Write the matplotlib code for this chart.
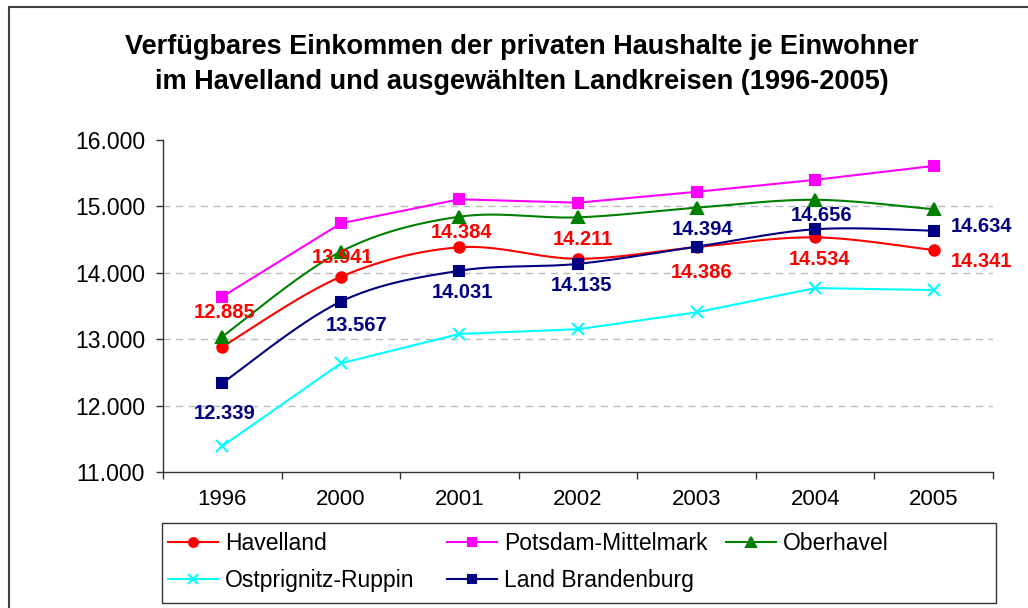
import numpy as np
import matplotlib
matplotlib.use("Agg")
import matplotlib.pyplot as plt
from matplotlib.patches import Rectangle
from matplotlib.ticker import FuncFormatter, FixedLocator

plt.rcParams['font.family'] = ['Liberation Sans', 'DejaVu Sans']

years = ['1996', '2000', '2001', '2002', '2003', '2004', '2005']

havelland = [12885, 13941, 14384, 14211, 14386, 14534, 14341]
potsdam_mittelmark = [13640, 14745, 15107, 15056, 15220, 15400, 15610]
oberhavel = [13040, 14320, 14845, 14835, 14980, 15100, 14956]
ostprignitz_ruppin = [11390, 12637, 13080, 13150, 13405, 13770, 13740]
land_brandenburg = [12339, 13567, 14031, 14135, 14394, 14656, 14634]

W, H = 1028, 608


def smooth(xs, ys, yscale=0.56 / 1000.0, n=30):
    """Excel-like smoothed line (Catmull-Rom as cubic Bezier)."""
    P = np.column_stack([np.asarray(xs, float), np.asarray(ys, float) * yscale])
    P = np.vstack([P[0], P, P[-1]])
    out = []
    t = np.linspace(0, 1, n)[:, None]
    for i in range(1, len(P) - 2):
        p0, p1, p2, p3 = P[i - 1], P[i], P[i + 1], P[i + 2]
        c1 = p1 + (p2 - p0) / 6.0
        c2 = p2 - (p3 - p1) / 6.0
        seg = ((1 - t) ** 3) * p1 + 3 * ((1 - t) ** 2) * t * c1 + 3 * (1 - t) * t ** 2 * c2 + t ** 3 * p2
        out.append(seg if i == 1 else seg[1:])
    out = np.vstack(out)
    return out[:, 0], out[:, 1] / yscale


fig = plt.figure(figsize=(W / 100, H / 100), dpi=100)
ax = fig.add_axes([163 / W, 1 - 472 / H, (993 - 163) / W, (472 - 140) / H])

x = np.arange(len(years))
# name, values, colour, marker, size, smoothed line?
series = [
    ("Havelland", havelland, "#FF0000", "o", 7.5, True),
    ("Potsdam-Mittelmark", potsdam_mittelmark, "#FF00FF", "s", 7.5, False),
    ("Oberhavel", oberhavel, "#008000", "^", 8.5, True),
    ("Ostprignitz-Ruppin", ostprignitz_ruppin, "#00FFFF", "x", 9, False),
    ("Land Brandenburg", land_brandenburg, "#000080", "s", 7.5, True),
]

handles = {}
for name, vals, col, mk, ms, sm in series:
    if sm:
        sx, sy = smooth(x, vals)
    else:
        sx, sy = x, vals
    ax.plot(sx, sy, color=col, lw=1.5, zorder=3)
    ax.plot(x, vals, ls='none', marker=mk, color=col, ms=ms, mew=1.5, zorder=4)
    h, = ax.plot([], [], color=col, lw=1.5, marker=mk, ms=ms * 0.85, mew=1.5)
    handles[name] = h

# gridlines
for gy in [12000, 13000, 14000, 15000]:
    ax.axhline(gy, color='#BBBBBB', lw=1, ls=(0, (5, 4)), zorder=1)

ax.set_xlim(-0.5, len(years) - 0.5)
ax.set_ylim(11000, 16000)
ax.set_yticks(np.arange(11000, 16001, 1000))
ax.yaxis.set_major_formatter(FuncFormatter(lambda v, p: f"{int(v):,}".replace(",", ".")))
ax.xaxis.set_major_locator(FixedLocator(np.arange(-0.5, len(years), 1.0)))
ax.xaxis.set_minor_locator(FixedLocator(x))
ax.set_xticklabels([], minor=False)
ax.set_xticklabels(years, minor=True)
ax.tick_params(axis='x', which='major', direction='out', length=5, width=1, color='#333333')
ax.tick_params(axis='x', which='minor', length=0, pad=12, labelsize=16)
ax.tick_params(axis='y', direction='out', length=5, width=1, color='#333333', pad=8, labelsize=16.5)
for s in ['top', 'right']:
    ax.spines[s].set_visible(False)
for s in ['left', 'bottom']:
    ax.spines[s].set_color('#333333')
    ax.spines[s].set_linewidth(1)

# data labels (offsets in pixels, screen y down)
red_off = [(2, -34), (2, -19), (2, -15), (5, -19), (5, 25), (4, 22), (48, 11)]
navy_off = [(2, 30), (16, 24), (3, 22), (4, 22), (6, -17), (6, -14), (48, -4)]
for vals, offs, col in [(havelland, red_off, "#FF0000"), (land_brandenburg, navy_off, "#000080")]:
    for xi, v, (dx, dy) in zip(x, vals, offs):
        ax.annotate(f"{v:,}".replace(",", "."), (xi, v), xytext=(dx * 0.72, -dy * 0.72),
                    textcoords='offset points', ha='center', va='center',
                    fontsize=14.5, fontweight='bold', color=col, zorder=5)

# title
fig.text(522 / W, 1 - 47 / H, "Verfügbares Einkommen der privaten Haushalte je Einwohner",
         ha='center', va='center', fontsize=19.5, fontweight='bold')
fig.text(522 / W, 1 - 82 / H, "im Havelland und ausgewählten Landkreisen (1996-2005)",
         ha='center', va='center', fontsize=19.5, fontweight='bold')

# legend: equal-width columns like Excel, one frameless legend per column
legend_cols = [["Havelland", "Ostprignitz-Ruppin"],
               ["Potsdam-Mittelmark", "Land Brandenburg"],
               ["Oberhavel"]]
col_x = [168, 447, 726]
for names, cx in zip(legend_cols, col_x):
    fig.legend([handles[n] for n in names], names, loc='upper left',
               bbox_to_anchor=(cx / W, 1 - 532 / H), fontsize=16.5, frameon=False,
               handlelength=2.2, handletextpad=0.3, borderaxespad=0, borderpad=0,
               labelspacing=0.6)
fig.patches.append(Rectangle((162 / W, 1 - 603 / H), (996 - 162) / W, (603 - 523) / H,
                             transform=fig.transFigure, fill=False, edgecolor='#333333', lw=1))

# outer chart border
fig.patches.append(Rectangle((9 / W, -0.1), 1.2, 1.1 - 7 / H, transform=fig.transFigure,
                             fill=False, edgecolor='#404040', lw=1.5))

fig.savefig("out.png", dpi=100)
